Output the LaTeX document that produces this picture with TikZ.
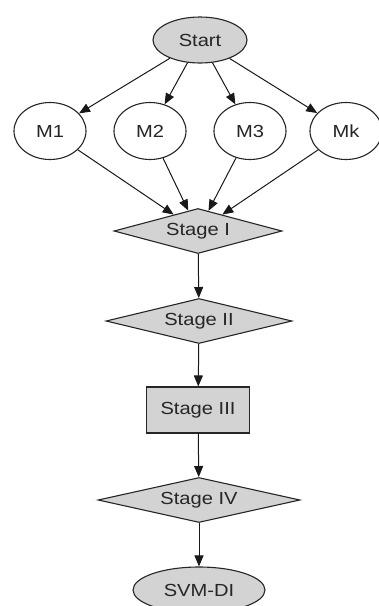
\documentclass[tikz,border=0pt]{standalone}
\usepackage{fontspec}
\setmainfont{Liberation Sans}[FakeStretch=1.15]
\usetikzlibrary{shapes.geometric,arrows.meta}
\definecolor{nodefill}{HTML}{D3D3D3}
\definecolor{txt}{HTML}{262626}
\begin{document}
\begin{tikzpicture}[x=1pt,y=-1pt,
  base/.style={font=\fontsize{17.5}{20}\selectfont, text=txt, inner sep=0pt, draw=black!85, line width=1.1pt},
  grayoval/.style={base, ellipse, fill=nodefill, minimum width=94pt, minimum height=46pt},
  circ/.style={base, ellipse, fill=white, minimum width=72pt, minimum height=57pt},
  dia/.style={base, diamond, fill=nodefill, minimum height=45pt},
  boxnode/.style={base, rectangle, fill=nodefill, minimum width=103pt, minimum height=46pt},
  edge/.style={draw=black!90, line width=1pt, -{Triangle[length=11pt,width=9pt]}}
]
\useasboundingbox (0,0) rectangle (379,606);
\node[grayoval] (start) at (200,40) {Start};
\node[circ] (m1) at (50,131) {M1};
\node[circ] (m2) at (150,131) {M2};
\node[circ] (m3) at (250,131) {M3};
\node[circ] (mk) at (346,131) {Mk};
\node[dia, minimum width=168pt, aspect=3.73] (s1) at (198,231) {Stage I};
\node[dia, minimum width=186pt, aspect=4.2] (s2) at (199,321) {Stage II};
\node[boxnode] (s3) at (198,410) {Stage III};
\node[dia, minimum width=202pt, aspect=4.6] (s4) at (199,500) {Stage IV};
\node[grayoval, minimum width=132pt] (svm) at (199,590) {SVM-DI};
\draw[edge] (start) -- (m1);
\draw[edge] (start) -- (m2);
\draw[edge] (start) -- (m3);
\draw[edge] (start) -- (mk);
\draw[edge] (m1) -- (s1);
\draw[edge] (m2) -- (s1);
\draw[edge] (m3) -- (s1);
\draw[edge] (mk) -- (s1);
\draw[edge] (s1) -- (s2);
\draw[edge] (s2) -- (s3);
\draw[edge] (s3) -- (s4);
\draw[edge] (s4) -- (svm);
\end{tikzpicture}
\end{document}
